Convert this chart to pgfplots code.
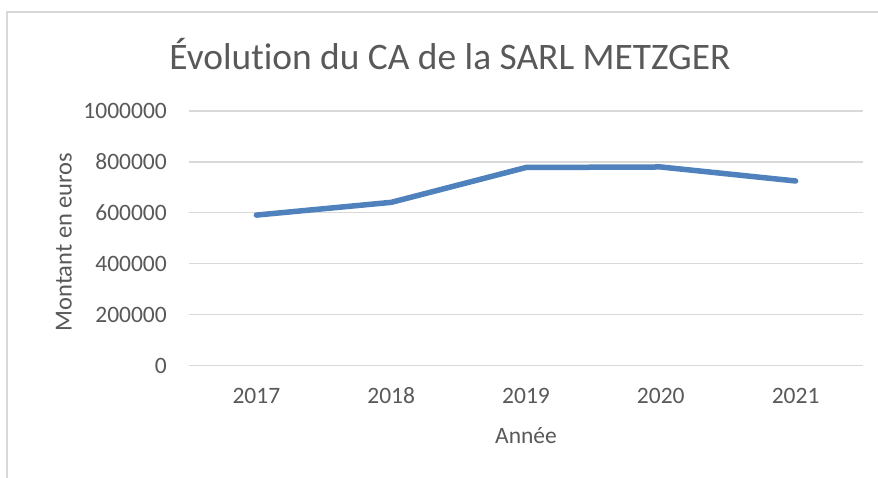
\documentclass[border=0pt]{standalone}
\usepackage{fontspec}
\setmainfont[Ligatures=NoCommon]{Carlito}
\usepackage{pgfplots}
\pgfplotsset{compat=1.18}
\definecolor{txt}{HTML}{595959}
\definecolor{grid}{HTML}{D9D9D9}
\definecolor{serie}{HTML}{4F81BD}
\begin{document}
\begin{tikzpicture}[x=1bp,y=1bp]
\useasboundingbox (0,0) rectangle (878,478);
\fill[white] (0,0) rectangle (878,478);
\draw[color=grid, line width=1.5bp] (7,0) -- (7,466) -- (878,466);
\begin{axis}[
  at={(189bp,112.5bp)}, anchor=south west,
  scale only axis, width=674bp, height=254.5bp,
  xmin=-0.5, xmax=4.5, ymin=0, ymax=1000000,
  xtick={0,1,2,3,4}, xticklabels={2017,2018,2019,2020,2021},
  ytick={0,200000,400000,600000,800000,1000000},
  scaled y ticks=false,
  yticklabel={\pgfmathprintnumber[fixed,precision=0,1000 sep={}]{\tick}},
  /pgf/number format/assume math mode=true,
  major tick length=0pt,
  axis line style={draw=none},
  ymajorgrids, grid style={color=grid, line width=1.3bp},
  ticklabel style={font=\fontsize{23.5bp}{28bp}\selectfont, text=txt, inner sep=0pt},
  yticklabel style={anchor=base east, xshift=-22bp, yshift=-7.6bp},
  xticklabel style={anchor=base, yshift=-38.5bp},
  clip=false,
]
\addplot[color=serie, line width=5.5bp, line join=round, line cap=round] coordinates {
  (0,591000) (1,641000) (2,778000) (3,780000) (4,725000)
};
\end{axis}
\node[anchor=base, text=txt, font=\fontsize{37.4bp}{42bp}\selectfont, inner sep=0pt] at (450,408) {Évolution du CA de la SARL METZGER};
\node[anchor=base, text=txt, font=\fontsize{23.5bp}{28bp}\selectfont, inner sep=0pt] at (526,34.7) {Année};
\node[anchor=base, rotate=90, text=txt, font=\fontsize{24.5bp}{28bp}\selectfont, inner sep=0pt] at (71.7,236) {Montant en euros};
\end{tikzpicture}
\end{document}
